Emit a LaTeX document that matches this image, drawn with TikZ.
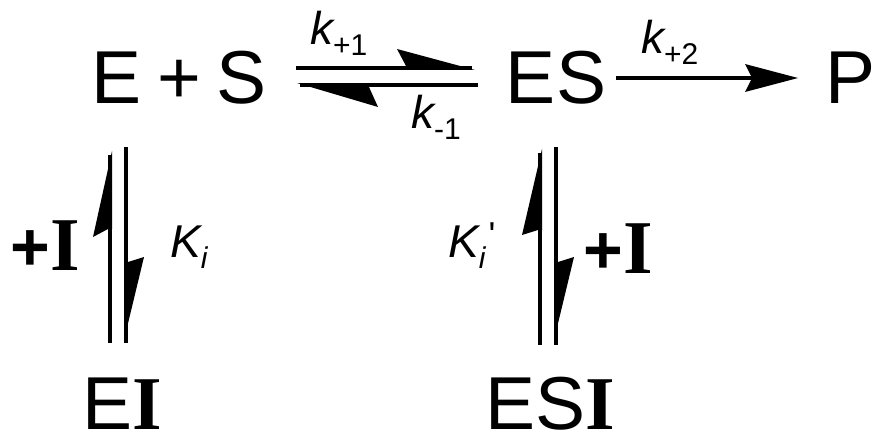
\documentclass[tikz,border=0pt]{standalone}
\usepackage{fontspec}
\newfontfamily\sansf{Liberation Sans}
\newfontfamily\serff{Liberation Serif}
\newcommand\subtxt[1]{\raisebox{-11pt}{\fontsize{30}{32}\selectfont #1}}
\newcommand\bigI{{\serff\bfseries\fontsize{76}{80}\selectfont I}}
\begin{document}
\begin{tikzpicture}[x=1pt,y=-1pt]
\useasboundingbox (0,0) rectangle (875,444);
\tikzset{
  big/.style={inner sep=0pt, anchor=base, font=\sansf\fontsize{75}{80}\selectfont},
  rate/.style={inner sep=0pt, anchor=base west, font=\sansf\itshape\fontsize{46}{50}\selectfont},
  rail/.style={line width=4.5pt},
  barb/.style={fill=black, draw=none},
}
% species
\node[big] (ESa) at (179,103) {\spaceskip=16pt E + S};
\node[big] (ES) at (556,103) {ES};
\node[big] (P) at (851,103) {P};
\node[big] (EI) at (122,429) {E\bigI};
\node[big] (ESI) at (550,429) {ES\bigI};
\node[big] (pIl) at (45,270) {{\bfseries\fontsize{68}{70}\selectfont +}\bigI};
\node[big] (pIr) at (618,273) {{\bfseries\fontsize{68}{70}\selectfont +}\bigI};
% rate labels
\node[rate] (k1) at (310,45) {k\subtxt{\upshape +1}};
\node[rate] (km1) at (411,128) {k\subtxt{\upshape -1}};
\node[rate] (k2) at (641,53) {k\subtxt{\upshape +2}};
\node[rate] (Ki) at (170,257) {K\subtxt{i}};
\node[rate] (Kip) at (448,257) {K\subtxt{i}\hspace{3pt}\raisebox{10pt}{\fontsize{36}{38}\selectfont\upshape '}};
% E+S <=> ES
\coordinate (f1) at (296,68); \coordinate (f2) at (472,68);
\draw[rail] (f1) -- (f2);
\fill[barb] (475,70) -- (397,49) -- (406,66) -- (406,70) -- cycle;
\coordinate (b1) at (478,85); \coordinate (b2) at (300,85);
\draw[rail] (b1) -- (b2);
\fill[barb] (297,83) -- (378,107) -- (369,87) -- (369,83) -- cycle;
% ES -> P
\coordinate (p1) at (616,78); \coordinate (p2) at (752,78);
\draw[line width=4pt] (p1) -- (p2);
\fill[barb] (798,78) -- (745,64) -- (752,78) -- (745,92) -- cycle;
% E <=> EI
\coordinate (l1) at (110,343); \coordinate (l2) at (110,155);
\draw[rail] (l1) -- (l2);
\fill[barb] (112,151) -- (93,237) -- (108,229) -- (112,229) -- cycle;
\coordinate (l3) at (126,147); \coordinate (l4) at (126,343);
\draw[rail] (l3) -- (l4);
\fill[barb] (124,340) -- (144,257) -- (128,262) -- (124,262) -- cycle;
% ES <=> ESI
\coordinate (r1) at (540,345); \coordinate (r2) at (540,153);
\draw[rail] (r1) -- (r2);
\fill[barb] (542,149) -- (522,235) -- (538,230) -- (542,230) -- cycle;
\coordinate (r3) at (556,147); \coordinate (r4) at (556,345);
\draw[rail] (r3) -- (r4);
\fill[barb] (554,340) -- (574,257) -- (558,262) -- (554,262) -- cycle;
\end{tikzpicture}
\end{document}
